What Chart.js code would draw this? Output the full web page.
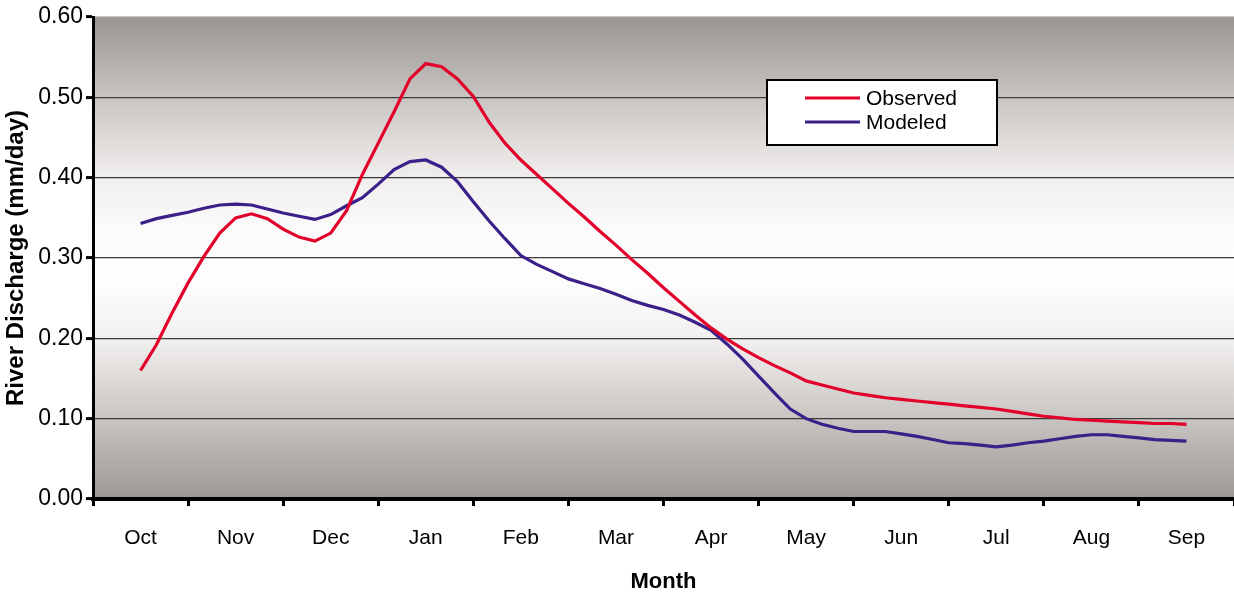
<!DOCTYPE html>
<html>
<head>
<meta charset="utf-8">
<script src="https://cdn.jsdelivr.net/npm/chart.js@4/dist/chart.umd.min.js"></script>
<style>
  html, body { margin: 0; padding: 0; background: #fff; }
  #wrap { width: 1234px; height: 595px; position: relative; }
</style>
</head>
<body>
<div id="wrap"><canvas id="dischargeChart"></canvas></div>
<script>
// Month labels along the x axis (Oct .. Sep water year)
const months = ['Oct', 'Nov', 'Dec', 'Jan', 'Feb', 'Mar', 'Apr', 'May', 'Jun', 'Jul', 'Aug', 'Sep'];
const pointsPerMonth = 6;

// River discharge (mm/day)
const observed = [
  0.160, 0.192, 0.232, 0.269, 0.302, 0.331, 0.350, 0.355, 0.349, 0.336, 0.326, 0.321,
  0.331, 0.359, 0.404, 0.443, 0.482, 0.523, 0.542, 0.538, 0.523, 0.501, 0.469, 0.443,
  0.422, 0.404, 0.386, 0.368, 0.351, 0.333, 0.316, 0.298, 0.281, 0.263, 0.246, 0.229,
  0.213, 0.199, 0.187, 0.176, 0.166, 0.157, 0.147, 0.142, 0.137, 0.132, 0.129, 0.126,
  0.124, 0.122, 0.120, 0.118, 0.116, 0.114, 0.112, 0.109, 0.106, 0.103, 0.101, 0.099,
  0.098, 0.097, 0.096, 0.095, 0.094, 0.094, 0.093
];
const modeled = [
  0.343, 0.349, 0.353, 0.357, 0.362, 0.366, 0.367, 0.366, 0.361, 0.356, 0.352, 0.348,
  0.354, 0.365, 0.375, 0.392, 0.410, 0.420, 0.422, 0.413, 0.395, 0.370, 0.346, 0.324,
  0.303, 0.292, 0.283, 0.274, 0.268, 0.262, 0.255, 0.247, 0.241, 0.236, 0.229, 0.220,
  0.210, 0.193, 0.174, 0.153, 0.132, 0.112, 0.100, 0.093, 0.088, 0.084, 0.084, 0.084,
  0.081, 0.078, 0.074, 0.070, 0.069, 0.067, 0.065, 0.067, 0.070, 0.072, 0.075, 0.078,
  0.080, 0.080, 0.078, 0.076, 0.074, 0.073, 0.072
];
const yTicks = [0, 0.1, 0.2, 0.3, 0.4, 0.5, 0.6];

const toPoints = arr => arr.map((v, i) => ({ x: i / pointsPerMonth, y: v }));

// grey-white-grey shaded plot area
const bgPlugin = {
  id: 'bgShade',
  beforeDraw(chart) {
    const { ctx, chartArea: a } = chart;
    const g = ctx.createLinearGradient(0, a.top, 0, a.bottom);
    g.addColorStop(0.00, '#999490');
    g.addColorStop(0.17, '#c9c5c2');
    g.addColorStop(0.33, '#f0eeed');
    g.addColorStop(0.45, '#fcfcfc');
    g.addColorStop(0.55, '#fdfdfd');
    g.addColorStop(0.67, '#f2f0ef');
    g.addColorStop(0.83, '#c9c5c2');
    g.addColorStop(1.00, '#9b9794');
    ctx.save();
    ctx.fillStyle = g;
    ctx.fillRect(a.left, a.top, a.right - a.left, a.bottom - a.top);
    ctx.restore();
  }
};

// boxed legend inside the plot
const boxLegend = {
  id: 'boxLegend',
  afterDraw(chart) {
    const ctx = chart.ctx;
    ctx.save();
    ctx.fillStyle = '#fff';
    ctx.fillRect(767, 80, 230, 65);
    ctx.strokeStyle = '#000';
    ctx.lineWidth = 2;
    ctx.strokeRect(767, 80, 230, 65);
    ctx.font = '21px "Liberation Sans", Arial, sans-serif';
    ctx.textBaseline = 'middle';
    chart.data.datasets.forEach((ds, i) => {
      const y = 98 + i * 24;
      ctx.strokeStyle = ds.borderColor;
      ctx.lineWidth = 3;
      ctx.beginPath();
      ctx.moveTo(805, y);
      ctx.lineTo(860, y);
      ctx.stroke();
      ctx.fillStyle = '#000';
      ctx.fillText(ds.label, 866, y + 1);
    });
    ctx.restore();
  }
};

document.addEventListener('DOMContentLoaded', () => {
  const ctx = document.getElementById('dischargeChart').getContext('2d');

  new Chart(ctx, {
    type: 'line',
    data: {
      datasets: [
        {
          label: 'Observed',
          data: toPoints(observed),
          borderColor: '#e2002b',
          borderWidth: 3.2,
          pointRadius: 0,
          tension: 0,
          fill: false
        },
        {
          label: 'Modeled',
          data: toPoints(modeled),
          borderColor: '#3b2089',
          borderWidth: 3.2,
          pointRadius: 0,
          tension: 0,
          fill: false
        }
      ]
    },
    options: {
      responsive: true,
      maintainAspectRatio: false,
      animation: false,
      devicePixelRatio: 1,
      layout: { padding: { top: 17, right: 0, bottom: 0, left: 0 } },
      plugins: {
        legend: { display: false },
        tooltip: { enabled: false }
      },
      scales: {
        x: {
          type: 'linear',
          min: -0.5,
          max: 11.5,
          afterBuildTicks: scale => {
            const t = [];
            for (let v = -0.5; v <= 11.5; v += 0.5) t.push({ value: v });
            scale.ticks = t;
          },
          afterFit: scale => {
            scale.height = 96;
            scale.paddingLeft = 0;
            scale.paddingRight = 0;
          },
          border: { color: '#000', width: 4 },
          grid: {
            drawOnChartArea: false,
            tickLength: 7,
            tickWidth: 3,
            tickColor: c => Number.isInteger(c.tick.value) ? 'rgba(0,0,0,0)' : '#000'
          },
          ticks: {
            autoSkip: false,
            maxRotation: 0,
            padding: 20,
            color: '#000',
            font: { family: '"Liberation Sans", Arial, sans-serif', size: 21 },
            callback: v => Number.isInteger(v) ? months[v] : ''
          },
          title: {
            display: true,
            text: 'Month',
            color: '#000',
            font: { family: '"Liberation Sans", Arial, sans-serif', size: 22, weight: 'bold' },
            padding: { top: 0, bottom: 0 }
          }
        },
        y: {
          min: 0,
          max: 0.6,
          afterBuildTicks: scale => { scale.ticks = yTicks.map(v => ({ value: v })); },
          afterFit: scale => { scale.width = 93; },
          border: { color: '#000', width: 3 },
          grid: {
            color: c => c.tick.value >= 0.6 ? '#c4c4c4' : '#3a3a3a',
            lineWidth: 1.2,
            tickLength: 7,
            tickWidth: 3,
            tickColor: '#000'
          },
          ticks: {
            padding: 3,
            color: '#000',
            font: { family: '"Liberation Sans", Arial, sans-serif', size: 23 },
            callback: v => v.toFixed(2)
          },
          title: {
            display: true,
            text: 'River Discharge (mm/day)',
            color: '#000',
            font: { family: '"Liberation Sans", Arial, sans-serif', size: 24, weight: 'bold' },
            padding: { top: 2, bottom: 0 }
          }
        }
      }
    },
    plugins: [bgPlugin, boxLegend]
  });
});
</script>
</body>
</html>
